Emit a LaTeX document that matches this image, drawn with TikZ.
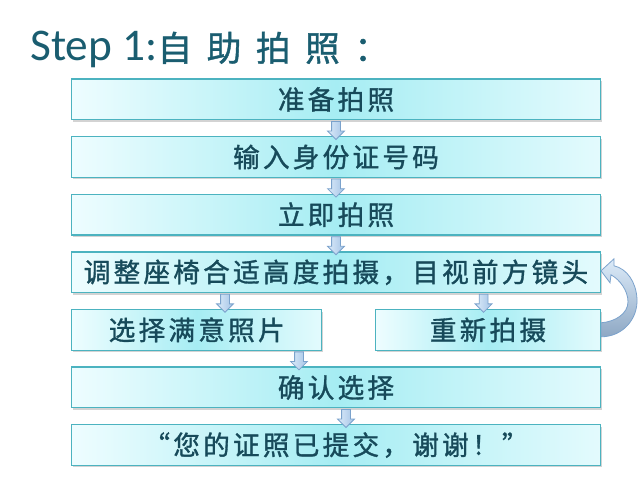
\documentclass[tikz,border=0pt]{standalone}
\usepackage{fontspec}
\setmainfont{Carlito}
\newfontfamily\cjkbox[LetterSpace=12, FakeBold=1.2]{Noto Sans CJK SC}
\newfontfamily\cjktitle[LetterSpace=42, FakeBold=1.2]{Noto Sans CJK SC}
\usepackage{tikz}
\usetikzlibrary{positioning,shapes.arrows,shadows}

\definecolor{titleblue}{HTML}{1A5D70}
\definecolor{textblue}{HTML}{174A5A}
\definecolor{boxline}{HTML}{4CB3C0}
\definecolor{boxedge}{HTML}{EEFDFF}
\definecolor{boxmid}{HTML}{A6EDF3}
\definecolor{arrowtop}{HTML}{DCEBF9}
\definecolor{arrowbot}{HTML}{A3C3E6}
\definecolor{arrowline}{HTML}{7BA2CC}
\definecolor{loopbot}{HTML}{8EA8C4}

\tikzset{
  stepbox/.style={rectangle, draw=boxline, line width=1pt,
    left color=boxedge, right color=boxedge!85!boxmid, middle color=boxmid,
    minimum width=396.5pt, minimum height=30.5pt, inner sep=0pt,
    text=textblue, font=\cjkbox\fontsize{20pt}{22pt}\selectfont,
    drop shadow={shadow xshift=1pt, shadow yshift=-1.5pt, opacity=0.35}},
  downarrow/.style={single arrow, draw=arrowline, line width=0.6pt,
    left color=arrowtop, right color=arrowbot, rotate=-90,
    minimum height=13.5pt, minimum width=12pt,
    single arrow head extend=3pt, inner sep=3pt},
}

\begin{document}
\begin{tikzpicture}[x=0.75pt, y=-0.75pt]
  \useasboundingbox (0,0) rectangle (640,488);
  \node [anchor=base west, inner sep=0pt, text=titleblue,
    font=\fontsize{34pt}{38pt}\selectfont] (title) at (30,61)
    {Step 1:{\cjktitle\fontsize{26pt}{30pt}\selectfont 自助拍照：}};

  \node [stepbox] (prep) at (336,99.5) {准备拍照};
  \node [stepbox, below=11.7pt of prep] (idnum) {输入身份证号码};
  \node [stepbox, below=11.7pt of idnum] (shoot) {立即拍照};
  \node [stepbox, below=11.7pt of shoot] (adjust) {调整座椅合适高度拍摄，目视前方镜头};
  \node [stepbox, minimum width=187.6pt, below=11.7pt of adjust.south west,
    anchor=north west] (pick) {选择满意照片};
  \node [stepbox, minimum width=168.5pt, below=11.7pt of adjust.south east,
    anchor=north east] (redo) {重新拍摄};
  \node [stepbox, anchor=north] (confirm) at ([yshift=-11.7pt]adjust |- pick.south) {确认选择};
  \node [stepbox, below=11.7pt of confirm] (done) {“您的证照已提交，谢谢！”};

  \node [downarrow] at ([yshift=5.85pt]idnum.north) {};
  \node [downarrow] at ([yshift=5.85pt]shoot.north) {};
  \node [downarrow] at ([yshift=5.85pt]adjust.north) {};
  \node [downarrow] at ([xshift=21.2pt, yshift=5.85pt]pick.north) {};
  \node [downarrow] at ([xshift=-3.3pt, yshift=5.85pt]redo.north) {};
  \node [downarrow] at ([xshift=-27.75pt, yshift=5.85pt]confirm.north) {};
  \node [downarrow] at ([xshift=7.5pt, yshift=5.85pt]done.north) {};

  % curved arrow back from redo to adjust
  \begin{scope}[shift={(adjust.east)}]
    \path [draw=arrowline, line width=0.6pt, top color=arrowtop, bottom color=loopbot]
      (0,64.5) .. controls (22,64.5) and (37,46.5) .. (36,26.5)
      .. controls (35,9.5) and (26,-3.5) .. (13,-6.5)
      -- (13,-13.5) -- (0,-1.5) -- (9,10.5) -- (10,2.5)
      .. controls (19,7.5) and (27,18.5) .. (27,29.5)
      .. controls (27,41.5) and (14,49.5) .. (0,50.5) -- cycle;
  \end{scope}
\end{tikzpicture}
\end{document}
